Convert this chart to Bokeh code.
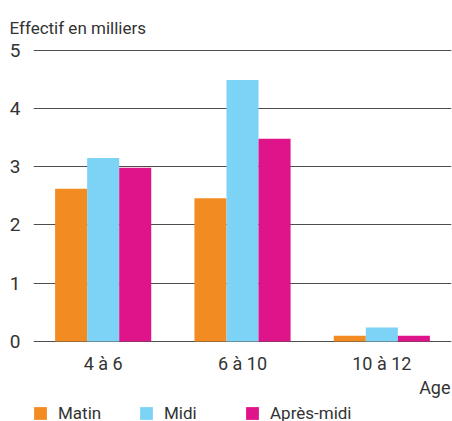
from bokeh.plotting import figure
from bokeh.models import FactorRange, Range1d, ColumnDataSource, FixedTicker, Legend, LegendItem, Label
from bokeh.transform import dodge
from bokeh.embed import file_html
from bokeh.resources import INLINE

ages = ["4 à 6", "6 à 10", "10 à 12"]
matin = [2.62, 2.46, 0.10]
midi = [3.15, 4.49, 0.24]
apres_midi = [2.98, 3.48, 0.10]
series_names = ["Matin", "Midi", "Après-midi"]
colors = ["#F28C22", "#7DD3F5", "#E0148A"]
y_ticks = [0, 1, 2, 3, 4, 5]

FONT = "Roboto"
TXT = "#333333"

src = ColumnDataSource(dict(age=ages, matin=matin, midi=midi, apres=apres_midi))

p = figure(frame_width=418, frame_height=376, x_range=FactorRange(*ages, range_padding=0),
           y_range=Range1d(-1.373, 5.08), output_backend="svg", toolbar_location=None,
           min_border_left=33, min_border_right=1, min_border_top=45, min_border_bottom=0)
p.outline_line_color = None
p.background_fill_color = "white"
p.border_fill_color = "white"

bw = 0.23
renderers = []
for off, col, c in zip([-bw, 0, bw], ["matin", "midi", "apres"], colors):
    r = p.vbar(x=dodge("age", off, range=p.x_range), top=col, width=bw, source=src,
               fill_color=c, line_color=None)
    renderers.append(r)

p.xgrid.grid_line_color = None
p.ygrid.grid_line_color = "#4d4d4d"
p.ygrid.grid_line_width = 1.2
p.ygrid.ticker = FixedTicker(ticks=y_ticks)

p.yaxis.ticker = FixedTicker(ticks=y_ticks)
p.yaxis.axis_line_color = None
p.yaxis.major_tick_line_color = None
p.yaxis.minor_tick_line_color = None
p.yaxis.major_tick_out = 0
p.yaxis.major_label_standoff = 13
p.yaxis.major_label_text_font = FONT
p.yaxis.major_label_text_font_size = "19px"
p.yaxis.major_label_text_color = TXT

p.xaxis.fixed_location = 0
p.xaxis.axis_line_color = None
p.xaxis.major_tick_line_color = None
p.xaxis.major_tick_out = 0
p.xaxis.major_label_standoff = 12
p.xaxis.major_label_text_font = FONT
p.xaxis.major_label_text_font_size = "18px"
p.xaxis.major_label_text_color = TXT

p.title.text = "Effectif en milliers"
p.title.align = "left"
p.title.offset = -24
p.title.standoff = 16
p.title.text_font = FONT
p.title.text_font_size = "17px"
p.title.text_font_style = "normal"
p.title.text_color = TXT

p.add_layout(Label(x=2.993, y=-0.79, text="Age", text_align="right", text_baseline="alphabetic",
                   text_font=FONT, text_font_size="18px", text_color=TXT))

legend = Legend(items=[LegendItem(label=n, renderers=[r]) for n, r in zip(series_names, renderers)],
                orientation="horizontal", location=(-1, -2),
                glyph_width=16, glyph_height=16, label_standoff=10, label_width=74, spacing=6,
                padding=0, margin=0, border_line_color=None, background_fill_alpha=0,
                label_text_font=FONT, label_text_font_size="17px", label_text_color=TXT)
p.add_layout(legend)

open("out.html", "w").write(file_html(p, INLINE))
